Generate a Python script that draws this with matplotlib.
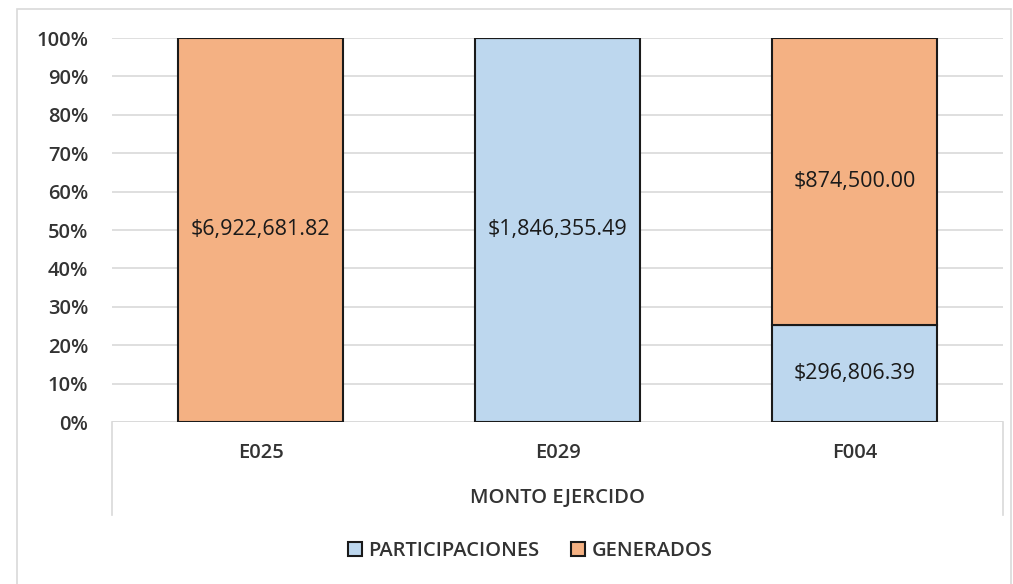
import matplotlib.pyplot as plt
from matplotlib.lines import Line2D
from matplotlib.patches import Rectangle

plt.rcParams['font.family'] = ['Open Sans', 'DejaVu Sans']
plt.rcParams['font.weight'] = 'semibold'

categorias = ['E025', 'E029', 'F004']
participaciones = [0.0, 1846355.49, 296806.39]
generados = [6922681.82, 0.0, 874500.00]
yticks = [0, 10, 20, 30, 40, 50, 60, 70, 80, 90, 100]

azul = '#BDD7EE'
naranja = '#F4B183'
texto = '#333333'

totales = [p + g for p, g in zip(participaciones, generados)]
pct_part = [p / t * 100 for p, t in zip(participaciones, totales)]
pct_gen = [g / t * 100 for g, t in zip(generados, totales)]

fig = plt.figure(figsize=(10.13, 5.84), dpi=100)
W, H = 1013, 584
ax = fig.add_axes([112 / W, 1 - 422 / H, (1003 - 112) / W, (422 - 38) / H])

x = range(len(categorias))
ancho = 0.555
b1 = ax.bar(x, pct_part, ancho, color=azul, edgecolor='#1a1a1a', linewidth=1.5,
            label='PARTICIPACIONES', zorder=3)
b2 = ax.bar(x, pct_gen, ancho, bottom=pct_part, color=naranja, edgecolor='#1a1a1a',
            linewidth=1.5, label='GENERADOS', zorder=3)

# etiquetas de datos
for i in x:
    if participaciones[i] > 0:
        ax.text(i, pct_part[i] / 2, '${:,.2f}'.format(participaciones[i]),
                ha='center', va='center', fontsize=15.5, fontweight='normal',
                color='#1a1a1a', zorder=4)
    if generados[i] > 0:
        ax.text(i, pct_part[i] + pct_gen[i] / 2, '${:,.2f}'.format(generados[i]),
                ha='center', va='center', fontsize=15.5, fontweight='normal',
                color='#1a1a1a', zorder=4)

ax.set_xlim(-0.5, 2.5)
ax.set_ylim(0, 100)
ax.set_yticks(yticks)
ax.set_yticklabels(['{}%'.format(v) for v in yticks], fontsize=14.5, color=texto)
ax.set_xticks([])
ax.yaxis.grid(True, color='#D9D9D9', linewidth=1.2, zorder=0)
ax.tick_params(axis='y', length=0, pad=17)
for s in ax.spines.values():
    s.set_visible(False)
ax.axhline(0, color='#D9D9D9', linewidth=1.2, zorder=2)

# caja de categorias debajo del eje
for xp in (112, 1003):
    fig.add_artist(Line2D([xp / W, xp / W], [1 - 422 / H, 1 - 515 / H],
                          color='#D9D9D9', linewidth=1.2))
for i, c in enumerate(categorias):
    fig.text((112 + (i + 0.5) * 297) / W, 1 - 453 / H, c, ha='center', va='center',
             fontsize=14.5, color=texto)
fig.text(557 / W, 1 - 498 / H, 'MONTO EJERCIDO', ha='center', va='center',
         fontsize=14.5, color=texto)

# marco exterior
fig.add_artist(Rectangle((17 / W, -0.05), (1011 - 17) / W, 1.05 - 9 / H,
                         fill=False, edgecolor='#D9D9D9', linewidth=1.2))

fig.legend(handles=[b1, b2], loc='center', bbox_to_anchor=(530 / W, 1 - 551 / H),
           ncol=2, frameon=False, fontsize=14.5, handlelength=0.7, handleheight=0.7,
           handletextpad=0.3, columnspacing=1.6, labelcolor=texto)

fig.savefig('out.png', dpi=100)
